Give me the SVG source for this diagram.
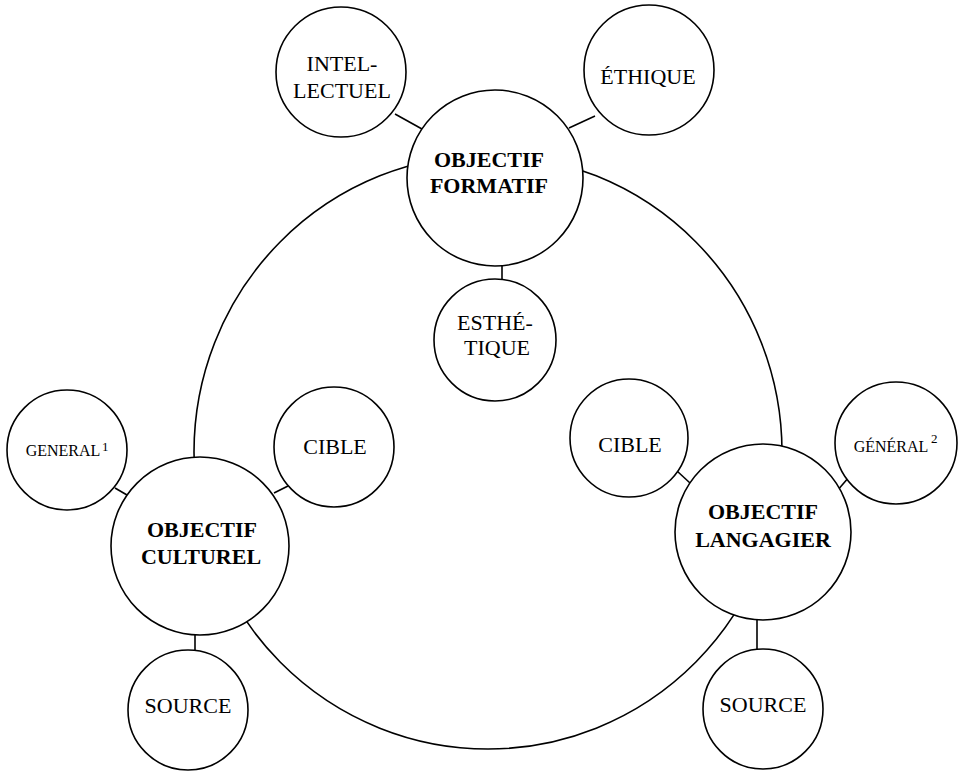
<svg xmlns="http://www.w3.org/2000/svg" width="958" height="772" viewBox="0 0 958 772">
<style>
.n{fill:#fff;stroke:#000;stroke-width:1.6}
.c{fill:none;stroke:#000;stroke-width:1.6}
text{font-family:"Liberation Serif","Times New Roman",serif;fill:#000;text-anchor:middle}
.t{font-size:22px}
.b{font-size:22px;font-weight:bold}
.s{font-size:16px}
.sup{font-size:13px;text-anchor:start}
</style>
<rect width="958" height="772" fill="#fff"/>
<g id="connectors">
<ellipse class="c" cx="488" cy="452" rx="294" ry="297"/>
<line class="c" x1="395" y1="114" x2="422" y2="129"/>
<line class="c" x1="595" y1="116" x2="569" y2="128"/>
<line class="c" x1="502" y1="266" x2="502" y2="279"/>
<line class="c" x1="115" y1="488" x2="127" y2="495"/>
<line class="c" x1="274" y1="493" x2="288" y2="486"/>
<line class="c" x1="195" y1="634" x2="195" y2="651"/>
<line class="c" x1="677" y1="471" x2="690" y2="483"/>
<line class="c" x1="849" y1="477" x2="837" y2="491"/>
<line class="c" x1="757" y1="619" x2="757" y2="650"/>
</g>
<g id="formatif">
<circle class="n" cx="495" cy="178" r="88"/>
<text class="b" x="489" y="167">OBJECTIF</text>
<text class="b" x="489" y="193">FORMATIF</text>
</g>
<g id="intellectuel">
<circle class="n" cx="341" cy="72" r="65"/>
<text class="t" x="342" y="71">INTEL-</text>
<text class="t" x="342" y="98">LECTUEL</text>
</g>
<g id="ethique">
<circle class="n" cx="649" cy="70" r="65"/>
<text class="t" x="648" y="84">ÉTHIQUE</text>
</g>
<g id="esthetique">
<circle class="n" cx="495" cy="340" r="61"/>
<text class="t" x="495" y="330">ESTHÉ-</text>
<text class="t" x="497" y="355">TIQUE</text>
</g>
<g id="culturel">
<circle class="n" cx="200" cy="546" r="89"/>
<text class="b" x="202" y="537">OBJECTIF</text>
<text class="b" x="201" y="564">CULTUREL</text>
</g>
<g id="general1">
<circle class="n" cx="67" cy="450" r="60"/>
<text class="s" x="63" y="456">GENERAL</text>
<text class="sup" x="102" y="451">1</text>
</g>
<g id="cible-culturel">
<circle class="n" cx="334" cy="447" r="60"/>
<text class="t" x="335" y="454">CIBLE</text>
</g>
<g id="source-culturel">
<circle class="n" cx="188" cy="710" r="60"/>
<text class="t" x="188" y="713">SOURCE</text>
</g>
<g id="langagier">
<circle class="n" cx="763" cy="532" r="88"/>
<text class="b" x="763" y="519">OBJECTIF</text>
<text class="b" x="763" y="547">LANGAGIER</text>
</g>
<g id="cible-langagier">
<circle class="n" cx="629" cy="438" r="59"/>
<text class="t" x="630" y="452">CIBLE</text>
</g>
<g id="general2">
<circle class="n" cx="896" cy="443" r="61"/>
<text class="s" x="891" y="452">GÉNÉRAL</text>
<text class="sup" x="931" y="443">2</text>
</g>
<g id="source-langagier">
<circle class="n" cx="763" cy="709" r="60"/>
<text class="t" x="763" y="712">SOURCE</text>
</g>
</svg>
